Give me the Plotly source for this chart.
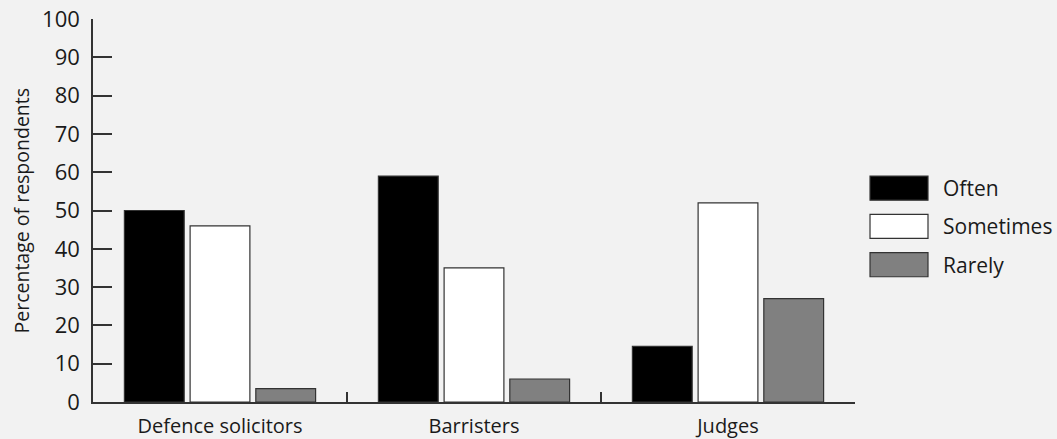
import plotly.graph_objects as go

categories = ["Defence solicitors", "Barristers", "Judges"]
series_names = ["Often", "Sometimes", "Rarely"]
often = [50, 59, 14.5]
sometimes = [46, 35, 52]
rarely = [3.5, 6, 27]
y_ticks = [0, 10, 20, 30, 40, 50, 60, 70, 80, 90, 100]

colors = ["#000000", "#ffffff", "#808080"]
series_values = [often, sometimes, rarely]
FONT = "Open Sans, Lato, sans-serif"
TXT = "#1a1a1a"
AX = "#333333"

fig = go.Figure()
for name, vals, col in zip(series_names, series_values, colors):
    fig.add_trace(go.Bar(
        x=categories, y=vals, name=name,
        marker=dict(color=col, line=dict(color="#333333", width=1.2)),
        showlegend=False,
    ))

# manual legend with wide swatches
leg_x0, leg_x1 = 1.0197, 1.0958
leg_top = 0.590
box_h = 0.063
step = 0.100
for i, (name, col) in enumerate(zip(series_names, colors)):
    y1 = leg_top - i * step
    y0 = y1 - box_h
    fig.add_shape(type="rect", xref="paper", yref="paper",
                  x0=leg_x0, x1=leg_x1, y0=y0, y1=y1,
                  fillcolor=col, line=dict(color="#333333", width=1.2))
    fig.add_annotation(xref="paper", yref="paper", x=1.1155, y=(y0 + y1) / 2,
                       text=name, showarrow=False, xanchor="left", yanchor="middle",
                       xshift=-2, font=dict(family=FONT, size=21, color=TXT))

# y-axis title
fig.add_annotation(xref="paper", yref="paper", x=-0.0932, y=0.5,
                   text="Percentage of respondents", textangle=-90, showarrow=False,
                   xanchor="center", yanchor="middle",
                   font=dict(family=FONT, size=19.5, color=TXT))

fig.update_layout(
    width=1057, height=439,
    margin=dict(l=93, r=202, t=19, b=37),
    paper_bgcolor="#f2f2f2", plot_bgcolor="#f2f2f2",
    barmode="group", bargap=0.224, bargroupgap=0.09,
    font=dict(family=FONT, color=TXT),
    showlegend=False,
)
fig.update_yaxes(
    range=[0, 100], tickvals=y_ticks, ticktext=[str(v) for v in y_ticks],
    showgrid=False, zeroline=False, automargin=False,
    showline=True, linecolor=AX, linewidth=1.5,
    ticks="inside", ticklen=19, tickwidth=1.5, tickcolor=AX,
    ticklabelstandoff=7,
    tickfont=dict(family=FONT, size=22, color=TXT),
)
fig.update_xaxes(
    showgrid=False, zeroline=False, automargin=False,
    showline=True, linecolor=AX, linewidth=1.5,
    ticks="inside", tickson="boundaries", ticklen=10, tickwidth=1.5, tickcolor=AX,
    ticklabelstandoff=5,
    tickfont=dict(family=FONT, size=20, color=TXT),
)

fig.write_html(
    "out.html",
    config={"displayModeBar": False},
    post_script="document.body.style.margin='0';document.body.style.background='#f2f2f2';",
)
